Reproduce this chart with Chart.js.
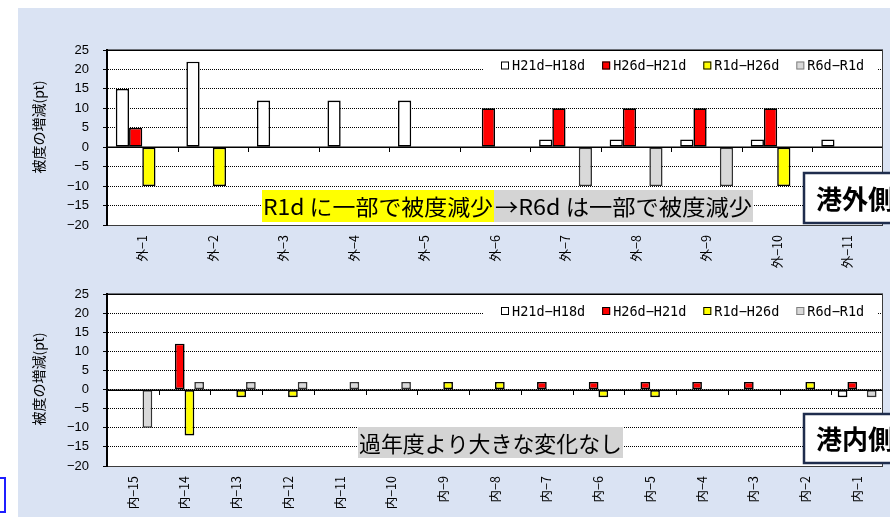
<!DOCTYPE html>
<html lang="ja">
<head>
<meta charset="utf-8">
<script src="https://cdn.jsdelivr.net/npm/chart.js@4.4.1/dist/chart.umd.min.js"></script>
<style>
html,body{margin:0;padding:0;background:#fff;}
#page{position:relative;width:890px;height:517px;overflow:hidden;background:#fff;}
#panel{position:absolute;left:18px;top:8px;width:872px;height:509px;background:#dae3f3;}
.wrap{position:absolute;left:0;width:890px;}
#w1{top:0;height:270px;}
#w2{top:270px;height:247px;}
#mark{position:absolute;left:-2px;top:477px;width:4px;height:32px;border:2px solid #1f1fff;background:#fff;}
canvas{display:block;}
</style>
</head>
<body>
<div id="page">
  <div id="panel"></div>
  <div id="mark"></div>
  <div class="wrap" id="w1"><canvas id="outer" width="890" height="270"></canvas></div>
  <div class="wrap" id="w2"><canvas id="inner" width="890" height="247"></canvas></div>
</div>
<script>
// Series names (change in coverage between survey years)
const seriesLabels = ['H21d−H18d', 'H26d−H21d', 'R1d−H26d', 'R6d−R1d'];

// Outer-harbour stations
const outerCategories = ['外−1', '外−2', '外−3', '外−4', '外−5', '外−6', '外−7', '外−8', '外−9', '外−10', '外−11'];
const outerH21H18 = [15, 22, 12, 12, 12, 0, 2, 2, 2, 2, 2];
const outerH26H21 = [5, 0, 0, 0, 0, 10, 10, 10, 10, 10, 0];
const outerR1H26  = [-10, -10, 0, 0, 0, 0, 0, 0, 0, -10, 0];
const outerR6R1   = [0, 0, 0, 0, 0, 0, -10, -10, -10, 0, 0];

// Inner-harbour stations
const innerCategories = ['内−15', '内−14', '内−13', '内−12', '内−11', '内−10', '内−9', '内−8', '内−7', '内−6', '内−5', '内−4', '内−3', '内−2', '内−1'];
const innerH21H18 = [0, 0, 0, 0, 0, 0, 0, 0, 0, 0, 0, 0, 0, 0, -2];
const innerH26H21 = [0, 12, 0, 0, 0, 0, 0, 0, 2, 2, 2, 2, 2, 0, 2];
const innerR1H26  = [0, -12, -2, -2, 0, 0, 2, 2, 0, -2, -2, 0, 0, 2, 0];
const innerR6R1   = [-10, 2, 2, 2, 2, 2, 0, 0, 0, 0, 0, 0, 0, 0, -2];

// Value axis range
const yMin = -20, yMax = 25, yStep = 5;
const yTitle = '被度の増減(pt)';

const fills   = ['#ffffff', '#ff0000', '#ffff00', '#d9d9d9'];
const strokes = ['#000000', '#000000', '#000000', '#333333'];
const legendStrokes = ['#000000', '#000000', '#000000', '#7f7f7f'];

const JP = '"Noto Sans CJK JP", "Noto Sans", sans-serif';

function makeDatasets(series) {
  return series.map((vals, i) => ({
    label: seriesLabels[i],
    data: vals,
    backgroundColor: fills[i],
    borderColor: strokes[i],
    borderWidth: 1.6,
    borderSkipped: false,
    inflateAmount: 0,
    barPercentage: 1,
    categoryPercentage: 0.75
  }));
}

// Draws plot background, axes frame, zero line, legend box and text notes
const decor = {
  id: 'decor',
  beforeDraw(chart) {
    const {ctx, chartArea: a} = chart;
    ctx.save();
    ctx.fillStyle = '#ffffff';
    ctx.fillRect(a.left, a.top, a.right - a.left, a.bottom - a.top);
    ctx.restore();
  },
  afterDatasetsDraw(chart) {
    const {ctx, chartArea: a, scales} = chart;
    const y0 = Math.round(scales.y.getPixelForValue(0));
    ctx.save();
    // zero line acting as category axis
    ctx.strokeStyle = '#000';
    ctx.lineWidth = 1.5;
    ctx.beginPath();
    ctx.moveTo(a.left, y0 + 0.25);
    ctx.lineTo(a.right, y0 + 0.25);
    ctx.stroke();
    // category boundary ticks
    const xs = scales.x;
    const n = chart.data.labels.length;
    ctx.lineWidth = 1;
    for (let i = 1; i < n; i++) {
      const bx = Math.round((xs.getPixelForTick(i - 1) + xs.getPixelForTick(i)) / 2) + 0.5;
      ctx.beginPath();
      ctx.moveTo(bx, y0);
      ctx.lineTo(bx, y0 + 5);
      ctx.stroke();
    }
    // frame
    ctx.strokeStyle = '#000';
    ctx.lineWidth = 1.5;
    ctx.beginPath();
    ctx.moveTo(a.left, a.top + 0.25);
    ctx.lineTo(a.right, a.top + 0.25);
    ctx.stroke();
    ctx.strokeStyle = '#3c3c3c';
    ctx.lineWidth = 1;
    ctx.beginPath();
    ctx.moveTo(a.right - 0.5, a.top);
    ctx.lineTo(a.right - 0.5, a.bottom);
    ctx.moveTo(a.left, a.bottom + 0.5);
    ctx.lineTo(a.right, a.bottom + 0.5);
    ctx.stroke();
    ctx.strokeStyle = '#000';
    ctx.lineWidth = 2;
    ctx.beginPath();
    ctx.moveTo(a.left, a.top);
    ctx.lineTo(a.left, a.bottom + 1);
    ctx.stroke();
    ctx.restore();
  },
  afterDraw(chart, args, opts) {
    const {ctx, chartArea: a} = chart;
    ctx.save();
    // legend
    const ly = a.top + opts.legendDy;
    ctx.fillStyle = '#fff';
    ctx.fillRect(a.right - 400, ly - 10, 394, 21);
    ctx.font = '13.5px "DejaVu Sans Mono", monospace';
    ctx.textBaseline = 'middle';
    let lx = a.right - 382;
    chart.data.datasets.forEach((ds, i) => {
      ctx.fillStyle = fills[i];
      ctx.fillRect(lx, ly - 4, 8, 8);
      ctx.strokeStyle = legendStrokes[i];
      ctx.lineWidth = 1;
      ctx.strokeRect(lx + 0.5, ly - 3.5, 7, 7);
      ctx.fillStyle = '#000';
      ctx.fillText(ds.label, lx + 11, ly + 1);
      lx += 11 + ctx.measureText(ds.label).width + 17;
    });
    // notes: text stretched to fill its highlight box
    ctx.font = '22px ' + JP;
    opts.notes.forEach(nt => {
      ctx.fillStyle = nt.bg;
      ctx.fillRect(nt.x, nt.y, nt.w, nt.h);
      const tw = ctx.measureText(nt.text).width;
      const sx = (nt.w - 2) / tw;
      ctx.save();
      ctx.translate(nt.x + 1, nt.y + nt.h / 2 + 1);
      ctx.scale(sx, 1);
      ctx.fillStyle = '#000';
      ctx.fillText(nt.text, 0, 0);
      ctx.restore();
    });
    // area label box
    const b = opts.area;
    ctx.fillStyle = '#fff';
    ctx.fillRect(b.x, b.y, 120, b.h);
    ctx.strokeStyle = '#1f2d4d';
    ctx.lineWidth = 2.5;
    ctx.strokeRect(b.x, b.y, 120, b.h);
    ctx.fillStyle = '#000';
    ctx.font = 'bold 26px ' + JP;
    ctx.fillText(b.text, b.x + 12, b.y + b.h / 2 + 1);
    // value axis title
    ctx.translate(opts.titleX, opts.titleY);
    ctx.rotate(-Math.PI / 2);
    ctx.textAlign = 'center';
    ctx.font = '14px ' + JP;
    ctx.fillStyle = '#000';
    ctx.fillText(yTitle, 0, 0);
    ctx.restore();
  }
};

function makeChart(id, labels, series, xAxisHeight, topPad, decorOpts) {
  return new Chart(document.getElementById(id), {
    type: 'bar',
    data: {labels: labels, datasets: makeDatasets(series)},
    options: {
      responsive: false,
      animation: false,
      layout: {padding: {top: topPad, right: 7, left: 0, bottom: 0}},
      plugins: {legend: {display: false}, tooltip: {enabled: false}, decor: decorOpts},
      scales: {
        x: {
          grid: {display: false, drawTicks: false},
          border: {display: false},
          ticks: {
            autoSkip: false, maxRotation: 90, minRotation: 90, padding: 10,
            color: '#000', font: {family: JP, size: 12.5}
          },
          afterFit(s) { s.height = xAxisHeight; }
        },
        y: {
          min: yMin, max: yMax,
          ticks: {
            stepSize: yStep, padding: 14, color: '#000',
            font: {family: '"Liberation Sans", Arial, sans-serif', size: 13},
            callback: v => (v < 0 ? '−' + Math.abs(v) : String(v))
          },
          grid: {color: '#000', lineWidth: 1, tickLength: 4, tickColor: '#000', tickWidth: 1, tickBorderDash: []},
          border: {display: true, color: '#000', width: 2, dash: [1, 1]},
          afterFit(s) { s.width = 107; }
        }
      }
    },
    plugins: [decor]
  });
}

makeChart('outer', outerCategories, [outerH21H18, outerH26H21, outerR1H26, outerR6R1], 45, 50, {
  legendDy: 15.5,
  titleX: 39, titleY: 127,
  notes: [
    {text: 'R1d に一部で被度減少', x: 262, y: 190, w: 232, h: 32, bg: '#ffff00'},
    {text: '→R6d は一部で被度減少', x: 494, y: 190, w: 259, h: 32, bg: '#d4d4d4'}
  ],
  area: {text: '港外側', x: 804, y: 173, h: 50}
});

makeChart('inner', innerCategories, [innerH21H18, innerH26H21, innerR1H26, innerR6R1], 51, 24, {
  legendDy: 17,
  titleX: 39, titleY: 109,
  notes: [
    {text: '過年度より大きな変化なし', x: 358, y: 157, w: 265, h: 31, bg: '#d4d4d4'}
  ],
  area: {text: '港内側', x: 804, y: 144, h: 49}
});
</script>
</body>
</html>
